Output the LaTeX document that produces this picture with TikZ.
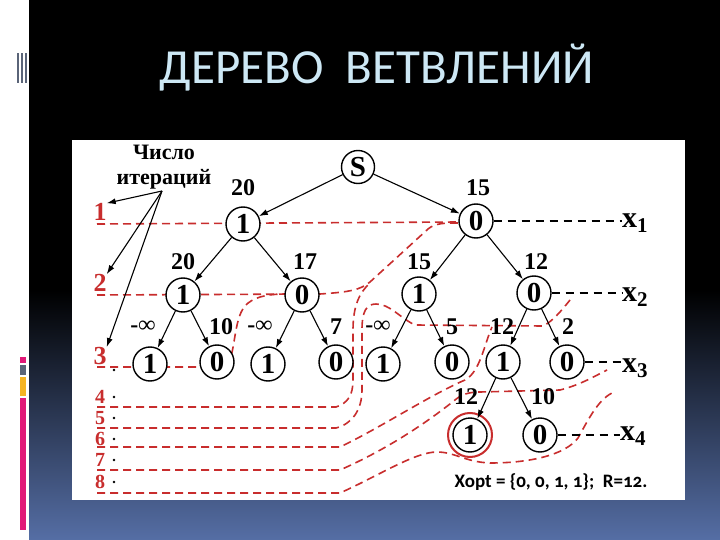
\documentclass[tikz,border=0pt]{standalone}
\usepackage{fontspec}
\setmainfont{Liberation Serif}[BoldFont={Liberation Serif Bold}]
\newfontfamily\titlefont{Carlito}
\newfontfamily\resfont[Numbers=OldStyle]{Carlito}
\usetikzlibrary{arrows.meta}

\definecolor{itred}{RGB}{200,45,45}
\definecolor{titleblue}{RGB}{205,232,245}
\definecolor{deepblue}{RGB}{85,110,165}
\definecolor{barpink}{RGB}{225,25,120}
\definecolor{barslate}{RGB}{90,100,120}
\definecolor{baramber}{RGB}{245,180,35}

\begin{document}
\begin{tikzpicture}[x=1pt,y=-1pt]

\tikzset{Vertex/.style = {circle, draw, line width=1.4pt, fill=white,
                          minimum size=34pt, inner sep=0pt,
                          font=\fontsize{29}{29}\selectfont\bfseries},
         Bound/.style  = {inner sep=0pt, font=\fontsize{24}{24}\selectfont\bfseries},
         IterNum/.style = {inner sep=0pt, text=itred,
                          font=\fontsize{26}{26}\selectfont\bfseries},
         IterLow/.style = {IterNum, font=\fontsize{20}{20}\selectfont\bfseries},
         VarName/.style = {inner sep=0pt, anchor=west,
                          font=\fontsize{30}{30}\selectfont\bfseries},
         TreeEdge/.style = {-{Latex[length=9pt,width=6pt]}, line width=1.1pt},
         Front/.style  = {itred, line width=1.6pt, dash pattern=on 8pt off 5pt},
         Level/.style  = {line width=1.2pt, dash pattern=on 8pt off 6pt}}

\useasboundingbox (0,0) rectangle (720,540);
\fill[white] (0,0) rectangle (720,540);
\fill[black] (29,0) rectangle (720,290);
\shade[top color=black, bottom color=deepblue] (29,290) rectangle (720,540);

\fill[barslate] (17,53) rectangle (19,83);
\fill[barslate] (21,53) rectangle (23,83);
\fill[barslate] (25,53) rectangle (27,83);
\fill[barpink]  (20,357) rectangle (26,363);
\fill[barslate] (20,365) rectangle (26,375);
\fill[baramber] (20,377) rectangle (26,396);
\fill[barpink]  (20,398) rectangle (26,530);

\fill[white] (72,140) rectangle (685,500);

\node[text=titleblue, font=\titlefont\fontsize{49}{49}\selectfont] (title) at (377,68) {ДЕРЕВО~~ВЕТВЛЕНИЙ};

\draw[Front] (97,224) -- (459,222);
\draw[Front] (97,295) -- (320,294) .. controls (350,292) and (360,290) .. (370,282)
             -- (428,229) .. controls (435,223) and (445,223) .. (458,223);
\draw[Front] (97,367) -- (226,367) .. controls (236,355) and (233,320) .. (245,306)
             .. controls (252,298) and (265,294) .. (285,294);
\draw[Front] (97,407) -- (336,407) .. controls (348,403) and (353,395) .. (353,380)
             -- (353,330) .. controls (353,305) and (360,292) .. (370,283);
\draw[Front] (97,428) -- (336,428) .. controls (352,424) and (362,410) .. (362,390)
             -- (362,330) .. controls (362,312) and (366,304) .. (376,304)
             .. controls (390,304) and (400,318) .. (415,325)
             -- (543,326) .. controls (552,322) and (562,310) .. (570,300);
\draw[Front] (97,447) -- (340,447) .. controls (380,428) and (430,395) .. (465,380)
             .. controls (480,372) and (484,345) .. (492,327);
\draw[Front] (97,470) -- (340,470) .. controls (390,448) and (430,420) .. (455,400)
             .. controls (462,394) and (470,392) .. (480,392)
             -- (560,390) .. controls (580,385) and (595,376) .. (607,370);
\draw[Front] (97,493) -- (340,493) .. controls (380,475) and (415,452) .. (437,452)
             .. controls (455,452) and (465,462) .. (490,463)
             .. controls (530,463) and (565,455) .. (578,438)
             .. controls (588,420) and (598,400) .. (612,393);

\node[Vertex, minimum size=33pt] (S) at (358,167) {S};
\node[Vertex] (a)    at (243,224) {1};
\node[Vertex] (b)    at (476,221) {0};
\node[Vertex] (aa)   at (183,295) {1};
\node[Vertex] (ab)   at (302,295) {0};
\node[Vertex] (ba)   at (419,294) {1};
\node[Vertex] (bb)   at (534,293) {0};
\node[Vertex] (aaa)  at (150,364) {1};
\node[Vertex] (aab)  at (217,362) {0};
\node[Vertex] (aba)  at (268,364) {1};
\node[Vertex] (abb)  at (336,362) {0};
\node[Vertex] (baa)  at (383,364) {1};
\node[Vertex] (bab)  at (452,362) {0};
\node[Vertex] (bba)  at (503,362) {1};
\node[Vertex] (bbb)  at (567,362) {0};
\node[Vertex] (bbaa) at (470,435) {1};
\node[Vertex] (bbab) at (540,435) {0};
\node[circle, draw=itred, line width=2pt, minimum size=44pt] (opt) at (bbaa) {};

\draw[TreeEdge] (S) -- (a);
\draw[TreeEdge] (S) -- (b);
\draw[TreeEdge] (a) -- (aa);
\draw[TreeEdge] (a) -- (ab);
\draw[TreeEdge] (b) -- (ba);
\draw[TreeEdge] (b) -- (bb);
\draw[TreeEdge] (aa) -- (aaa);
\draw[TreeEdge] (aa) -- (aab);
\draw[TreeEdge] (ab) -- (aba);
\draw[TreeEdge] (ab) -- (abb);
\draw[TreeEdge] (ba) -- (baa);
\draw[TreeEdge] (ba) -- (bab);
\draw[TreeEdge] (bb) -- (bba);
\draw[TreeEdge] (bb) -- (bbb);
\draw[TreeEdge] (bba) -- (bbaa);
\draw[TreeEdge] (bba) -- (bbab);

\node[Bound] (ba1)  at (243,188) {20};
\node[Bound] (bb1)  at (478,188) {15};
\node[Bound] (baa1) at (183,262) {20};
\node[Bound] (bab1) at (305,262) {17};
\node[Bound] (bba1) at (419,262) {15};
\node[Bound] (bbb1) at (536,262) {12};
\node[Bound] (c1)   at (143,327) {-∞};
\node[Bound] (c2)   at (221,327) {10};
\node[Bound] (c3)   at (260,327) {-∞};
\node[Bound] (c4)   at (336,327) {7};
\node[Bound] (c5)   at (378,327) {-∞};
\node[Bound] (c6)   at (452,327) {5};
\node[Bound] (c7)   at (502,327) {12};
\node[Bound] (c8)   at (568,327) {2};
\node[Bound] (d1)   at (466,397) {12};
\node[Bound] (d2)   at (543,397) {10};

\node[VarName] (x1) at (622,223) {x\textsubscript{1}};
\node[VarName] (x2) at (622,297) {x\textsubscript{2}};
\node[VarName] (x3) at (622,368) {x\textsubscript{3}};
\node[VarName] (x4) at (620,436) {x\textsubscript{4}};

\draw[Level] (b) -- (b -| x1.west);
\draw[Level] (bb) -- (bb -| x2.west);
\draw[Level] (bbb) -- (bbb -| x3.west);
\draw[Level] (bbab) -- (bbab -| x4.west);

\node[align=center, inner sep=0pt, font=\fontsize{22}{25}\selectfont\bfseries] (iter) at (164,167) {Число\\итераций};
\coordinate (iterfoot) at (162,191);

\node[IterNum] (it1) at (100,212) {1};
\node[IterNum] (it2) at (100,283) {2};
\node[IterNum] (it3) at (100,356) {3};
\node[IterLow] (it4) at (100,397) {4};
\node[IterLow] (it5) at (100,418) {5};
\node[IterLow] (it6) at (100,439) {6};
\node[IterLow] (it7) at (100,460) {7};
\node[IterLow] (it8) at (100,482) {8};

\draw[TreeEdge] (iterfoot) -- (it1.north east);
\draw[TreeEdge] (iterfoot) -- (it2.north east);
\draw[TreeEdge] (iterfoot) -- (it3.north east);

\fill (114,370) circle (1.3);
\fill (114,397) circle (1.3);
\fill (114,418) circle (1.3);
\fill (114,439) circle (1.3);
\fill (114,460) circle (1.3);
\fill (114,482) circle (1.3);

\node[inner sep=0pt, font=\resfont\fontsize{19}{19}\selectfont\bfseries] (res) at (551,482) {Xopt = \{0, 0, 1, 1\};~~R=12.};

\end{tikzpicture}
\end{document}
